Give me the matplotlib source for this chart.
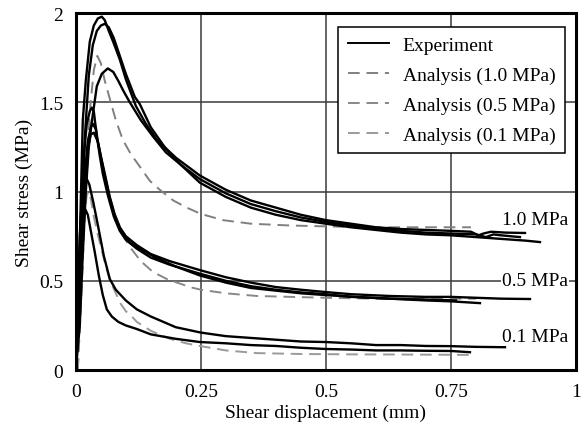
import matplotlib
matplotlib.use("Agg")
import matplotlib.pyplot as plt
from matplotlib.lines import Line2D

plt.rcParams['font.family'] = ['Liberation Serif', 'DejaVu Serif']

# ---------------- data ----------------
# Experiment, 1.0 MPa (three specimens)
exp10a_x = [0, 0.005, 0.010, 0.014, 0.020, 0.028, 0.036, 0.044, 0.052, 0.058, 0.066, 0.076, 0.088, 0.100, 0.120, 0.140, 0.162, 0.200, 0.248, 0.300, 0.350, 0.400, 0.450, 0.500, 0.550, 0.600, 0.650, 0.700, 0.750, 0.790, 0.805, 0.815, 0.830, 0.860, 0.898]
exp10a_y = [0, 0.35, 0.95, 1.40, 1.62, 1.84, 1.93, 1.97, 1.98, 1.96, 1.90, 1.83, 1.74, 1.63, 1.48, 1.38, 1.29, 1.19, 1.09, 1.01, 0.95, 0.91, 0.87, 0.84, 0.82, 0.80, 0.79, 0.785, 0.78, 0.775, 0.755, 0.765, 0.775, 0.77, 0.768]
exp10b_x = [0, 0.006, 0.012, 0.018, 0.026, 0.034, 0.042, 0.050, 0.058, 0.066, 0.076, 0.088, 0.100, 0.118, 0.128, 0.150, 0.180, 0.210, 0.248, 0.300, 0.350, 0.400, 0.450, 0.500, 0.550, 0.600, 0.650, 0.700, 0.750, 0.800, 0.850, 0.900, 0.928]
exp10b_y = [0, 0.30, 0.85, 1.30, 1.65, 1.82, 1.90, 1.93, 1.94, 1.92, 1.86, 1.76, 1.66, 1.53, 1.49, 1.36, 1.24, 1.15, 1.05, 0.97, 0.91, 0.87, 0.84, 0.82, 0.80, 0.785, 0.77, 0.76, 0.755, 0.745, 0.735, 0.725, 0.717]
exp10c_x = [0, 0.008, 0.014, 0.020, 0.026, 0.032, 0.042, 0.052, 0.064, 0.075, 0.085, 0.096, 0.108, 0.130, 0.154, 0.180, 0.210, 0.248, 0.300, 0.350, 0.400, 0.450, 0.500, 0.550, 0.600, 0.650, 0.700, 0.750, 0.800, 0.820, 0.835, 0.850, 0.888]
exp10c_y = [0, 0.25, 0.65, 1.00, 1.25, 1.39, 1.59, 1.66, 1.69, 1.67, 1.62, 1.56, 1.50, 1.40, 1.31, 1.22, 1.15, 1.07, 0.99, 0.93, 0.89, 0.855, 0.83, 0.81, 0.795, 0.78, 0.77, 0.765, 0.76, 0.745, 0.76, 0.755, 0.745]

# Experiment, 0.5 MPa
exp05a_x = [0, 0.005, 0.010, 0.016, 0.022, 0.028, 0.032, 0.036, 0.042, 0.050, 0.058, 0.068, 0.078, 0.088, 0.100, 0.122, 0.150, 0.188, 0.248, 0.300, 0.350, 0.400, 0.450, 0.500, 0.550, 0.628, 0.700, 0.750, 0.800, 0.850, 0.908]
exp05a_y = [0, 0.40, 0.85, 1.20, 1.38, 1.45, 1.47, 1.45, 1.31, 1.20, 1.10, 0.97, 0.87, 0.80, 0.75, 0.70, 0.65, 0.61, 0.56, 0.52, 0.49, 0.465, 0.45, 0.437, 0.425, 0.415, 0.41, 0.41, 0.405, 0.40, 0.398]
exp05b_x = [0, 0.006, 0.012, 0.018, 0.024, 0.030, 0.034, 0.040, 0.048, 0.054, 0.064, 0.076, 0.088, 0.100, 0.122, 0.150, 0.188, 0.248, 0.300, 0.350, 0.400, 0.450, 0.500, 0.550, 0.628, 0.700, 0.750, 0.808]
exp05b_y = [0, 0.35, 0.78, 1.10, 1.28, 1.36, 1.38, 1.35, 1.20, 1.10, 0.98, 0.86, 0.78, 0.73, 0.68, 0.63, 0.59, 0.54, 0.50, 0.47, 0.45, 0.435, 0.425, 0.41, 0.40, 0.39, 0.385, 0.375]
exp05c_x = [0, 0.006, 0.012, 0.018, 0.024, 0.030, 0.036, 0.044, 0.054, 0.068, 0.080, 0.094, 0.110, 0.134, 0.160, 0.200, 0.248, 0.300, 0.350, 0.400, 0.450, 0.500, 0.560, 0.628, 0.700, 0.760]
exp05c_y = [0, 0.30, 0.72, 1.05, 1.24, 1.32, 1.33, 1.28, 1.14, 0.96, 0.84, 0.76, 0.71, 0.67, 0.63, 0.58, 0.53, 0.49, 0.46, 0.445, 0.43, 0.42, 0.41, 0.40, 0.395, 0.39]

# Experiment, 0.1 MPa
exp01a_x = [0, 0.004, 0.008, 0.013, 0.018, 0.022, 0.027, 0.035, 0.045, 0.056, 0.068, 0.080, 0.100, 0.122, 0.150, 0.200, 0.250, 0.300, 0.350, 0.400, 0.450, 0.500, 0.550, 0.600, 0.650, 0.700, 0.750, 0.800, 0.858]
exp01a_y = [0, 0.35, 0.75, 0.98, 1.06, 1.07, 1.04, 0.94, 0.80, 0.64, 0.51, 0.45, 0.39, 0.34, 0.30, 0.24, 0.21, 0.19, 0.18, 0.17, 0.16, 0.157, 0.15, 0.14, 0.14, 0.135, 0.134, 0.13, 0.128]
exp01b_x = [0, 0.004, 0.008, 0.012, 0.016, 0.019, 0.024, 0.030, 0.038, 0.046, 0.054, 0.062, 0.072, 0.085, 0.100, 0.122, 0.150, 0.200, 0.248, 0.300, 0.350, 0.400, 0.450, 0.500, 0.550, 0.600, 0.650, 0.700, 0.750, 0.788]
exp01b_y = [0, 0.30, 0.62, 0.82, 0.89, 0.90, 0.87, 0.78, 0.66, 0.53, 0.42, 0.34, 0.30, 0.27, 0.25, 0.23, 0.20, 0.175, 0.157, 0.15, 0.14, 0.135, 0.125, 0.118, 0.115, 0.11, 0.11, 0.108, 0.107, 0.10]

# Analysis curves
ana10_x = [0.004, 0.012, 0.020, 0.028, 0.036, 0.043, 0.050, 0.058, 0.068, 0.080, 0.094, 0.110, 0.128, 0.148, 0.168, 0.195, 0.222, 0.250, 0.294, 0.350, 0.428, 0.500, 0.600, 0.700, 0.790]
ana10_y = [0, 0.50, 1.05, 1.45, 1.68, 1.76, 1.72, 1.62, 1.52, 1.40, 1.29, 1.21, 1.14, 1.06, 1.01, 0.95, 0.91, 0.875, 0.84, 0.82, 0.81, 0.805, 0.80, 0.80, 0.80]
ana05_x = [0.004, 0.012, 0.020, 0.026, 0.032, 0.038, 0.046, 0.056, 0.066, 0.080, 0.094, 0.108, 0.130, 0.154, 0.182, 0.228, 0.250, 0.300, 0.362, 0.430, 0.500, 0.600, 0.700, 0.800]
ana05_y = [0, 0.48, 1.00, 1.28, 1.40, 1.40, 1.26, 1.10, 0.98, 0.86, 0.76, 0.69, 0.61, 0.55, 0.51, 0.465, 0.45, 0.43, 0.415, 0.41, 0.405, 0.40, 0.40, 0.40]
ana01_x = [0.003, 0.010, 0.017, 0.022, 0.026, 0.030, 0.036, 0.044, 0.052, 0.060, 0.070, 0.080, 0.090, 0.100, 0.112, 0.122, 0.150, 0.188, 0.220, 0.248, 0.300, 0.362, 0.450, 0.550, 0.650, 0.794]
ana01_y = [0, 0.45, 0.85, 0.98, 1.00, 0.96, 0.86, 0.76, 0.67, 0.58, 0.49, 0.43, 0.37, 0.33, 0.30, 0.27, 0.22, 0.175, 0.15, 0.135, 0.11, 0.095, 0.09, 0.088, 0.087, 0.085]

x_ticks = [0, 0.25, 0.5, 0.75, 1]
x_tick_labels = ["0", "0.25", "0.5", "0.75", "1"]
y_ticks = [0, 0.5, 1, 1.5, 2]
y_tick_labels = ["0", "0.5", "1", "1.5", "2"]

legend_labels = ["Experiment", "Analysis (1.0 MPa)", "Analysis (0.5 MPa)", "Analysis (0.1 MPa)"]
curve_labels = ["1.0 MPa", "0.5 MPa", "0.1 MPa"]
curve_label_y = [0.846, 0.5, 0.19]

# ---------------- figure ----------------
fig = plt.figure(figsize=(5.83, 4.27), dpi=100)
ax = fig.add_axes([0.130, 0.131, 0.858, 0.836])

ax.set_xlim(0, 1)
ax.set_ylim(0, 2)

for v in [0.25, 0.5, 0.75]:
    ax.axvline(v, color="#3a3a3a", lw=1.1, zorder=1)
for v in [0.5, 1.0, 1.5]:
    ax.axhline(v, color="#3a3a3a", lw=1.1, zorder=1)

exp_kw = dict(color="black", lw=1.7, zorder=3, solid_joinstyle="round")
ana_colors = ["#808080", "#888888", "#9a9a9a"]

for xs, ys in [(exp10a_x, exp10a_y), (exp10b_x, exp10b_y), (exp10c_x, exp10c_y),
               (exp05a_x, exp05a_y), (exp05b_x, exp05b_y), (exp05c_x, exp05c_y),
               (exp01a_x, exp01a_y), (exp01b_x, exp01b_y)]:
    ax.plot(xs, ys, **exp_kw)

for (xs, ys), c in zip([(ana10_x, ana10_y), (ana05_x, ana05_y), (ana01_x, ana01_y)], ana_colors):
    ax.plot(xs, ys, color=c, lw=1.4, dashes=(6, 3.5), zorder=2)

ax.set_xticks(x_ticks)
ax.set_xticklabels(x_tick_labels)
ax.set_yticks(y_ticks)
ax.set_yticklabels(y_tick_labels)
ax.tick_params(axis="both", length=0, labelsize=14, colors="black")
ax.tick_params(axis="x", pad=9)
ax.tick_params(axis="y", pad=9)

for s in ax.spines.values():
    s.set_linewidth(2.2)
    s.set_color("black")
    s.set_zorder(5)

ax.set_xlabel("Shear displacement (mm)", fontsize=14, labelpad=3)
ax.set_ylabel("Shear stress (MPa)", fontsize=14, labelpad=4)

for lab, yv in zip(curve_labels, curve_label_y):
    ax.text(0.984, yv, lab, ha="right", va="center", fontsize=14, zorder=6,
            bbox=dict(facecolor="white", edgecolor="none", pad=0.5))

handles = [Line2D([], [], color="black", lw=1.4)] + [
    Line2D([], [], color=c, lw=1.4, dashes=(6, 3.5)) for c in ana_colors]
leg = ax.legend(handles, legend_labels, loc="upper right",
                bbox_to_anchor=(0.978, 0.962), fontsize=14, frameon=True,
                fancybox=False, edgecolor="black", framealpha=1,
                handlelength=2.1, handletextpad=0.7, borderpad=0.5,
                labelspacing=0.63, borderaxespad=0)
leg.get_frame().set_linewidth(1.1)
leg.set_zorder(7)

fig.savefig("out.png", dpi=100)
